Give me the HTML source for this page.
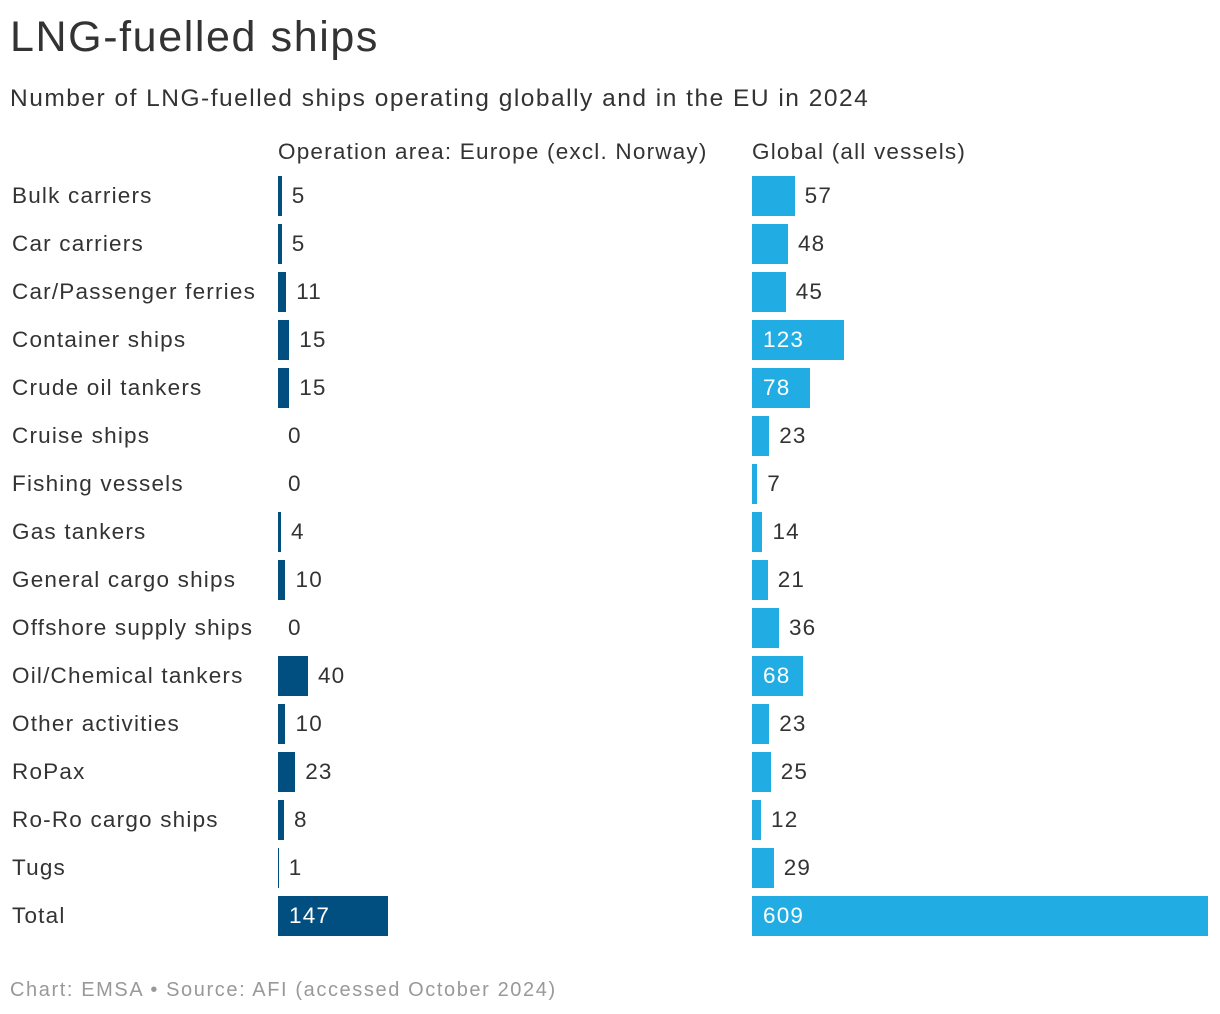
<!DOCTYPE html>
<html><head><meta charset="utf-8"><style>
body{margin:0;background:#fff;font-family:"Liberation Sans",sans-serif;color:#333;}
#wrap{position:relative;width:1220px;height:1014px;overflow:hidden}
.t{position:absolute;white-space:nowrap}
.lab{font-size:22.5px;letter-spacing:1.2px}
</style></head><body>
<div id="wrap">
<div class="t" style="left:10px;top:13px;font-size:43px;letter-spacing:1.6px;color:#333">LNG-fuelled ships</div>
<div class="t" style="left:10px;top:85px;font-size:24.5px;letter-spacing:1.5px;color:#333">Number of LNG-fuelled ships operating globally and in the EU in 2024</div>
<div class="t lab" style="left:278px;top:139px">Operation area: Europe (excl. Norway)</div>
<div class="t lab" style="left:752px;top:139px">Global (all vessels)</div>
<div id="rows"></div>
<div class="t" style="left:10px;top:979px;font-size:20px;letter-spacing:1.6px;color:#999">Chart: EMSA • Source: AFI (accessed October 2024)</div>
</div>
<script>
const categories=["Bulk carriers","Car carriers","Car/Passenger ferries","Container ships","Crude oil tankers","Cruise ships","Fishing vessels","Gas tankers","General cargo ships","Offshore supply ships","Oil/Chemical tankers","Other activities","RoPax","Ro-Ro cargo ships","Tugs","Total"];
const europeValues=[5,5,11,15,15,0,0,4,10,0,40,10,23,8,1,147];
const globalValues=[57,48,45,123,78,23,7,14,21,36,68,23,25,12,29,609];
const rows=document.getElementById('rows');
const scale=v=>v*456/609;
const rowY=i=>176+i*48;
function mk(tag,css,text,cls){const d=document.createElement(tag);d.className='t'+(cls?' '+cls:'');d.style.cssText=css;if(text!==undefined)d.textContent=text;rows.appendChild(d);return d;}
categories.forEach((c,i)=>{
  const y=rowY(i);
  const l=mk('div',`left:12px;top:${y+7}px`,c,'lab');
  
  
  [[278,europeValues[i],'#004f80','europe'],[752,globalValues[i],'#21ade4','global']].forEach(([x0,v,col,nm])=>{
    const w=scale(v);
    const b=mk('div',`left:${x0}px;top:${y}px;width:${w}px;height:40px;background:${col}`);
    
    
    const inside=w>45;
    const lx=v===0?x0+10:(inside?x0+11:x0+w+10);
    const t=mk('div',`left:${lx}px;top:${y+7}px;color:${inside?'#fff':'#333'}`,String(v),'lab');
    
    
  });
});
</script>
</body></html>
